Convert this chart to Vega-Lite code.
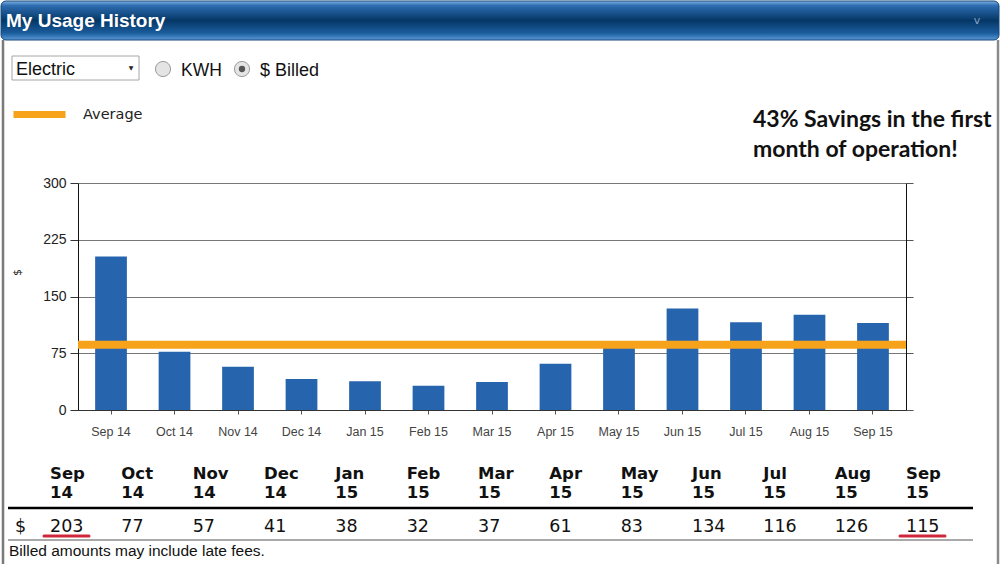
{
  "$schema": "https://vega.github.io/schema/vega-lite/v6.json",
  "width": 828,
  "height": 227,
  "autosize": {"type": "none"},
  "padding": {"left": 78, "top": 183, "right": 94, "bottom": 154},
  "background": "white",
  "config": {"view": {"stroke": null}},
  "data": {
    "values": [
      {"month": "Sep 14", "value": 203},
      {"month": "Oct 14", "value": 77},
      {"month": "Nov 14", "value": 57},
      {"month": "Dec 14", "value": 41},
      {"month": "Jan 15", "value": 38},
      {"month": "Feb 15", "value": 32},
      {"month": "Mar 15", "value": 37},
      {"month": "Apr 15", "value": 61},
      {"month": "May 15", "value": 83},
      {"month": "Jun 15", "value": 134},
      {"month": "Jul 15", "value": 116},
      {"month": "Aug 15", "value": 126},
      {"month": "Sep 15", "value": 115}
    ]
  },
  "layer": [
    {
      "data": {"values": [{}]},
      "mark": {
        "type": "rect",
        "cornerRadius": 5,
        "stroke": "#16487c",
        "strokeWidth": 1,
        "fill": {
          "gradient": "linear", "x1": 0, "y1": 0, "x2": 0, "y2": 1,
          "stops": [
            {"offset": 0, "color": "#7fb0e2"},
            {"offset": 0.12, "color": "#2d6cb0"},
            {"offset": 0.5, "color": "#053766"},
            {"offset": 0.82, "color": "#1a5c9c"},
            {"offset": 1, "color": "#5a98d6"}
          ]
        }
      },
      "encoding": {"x": {"value": -77}, "x2": {"value": 921}, "y": {"value": -182}, "y2": {"value": -143}}
    },
    {
      "data": {"values": [{}]},
      "mark": {"type": "text", "text": "My Usage History", "font": "Liberation Sans", "fontWeight": "bold", "fontSize": 19, "fill": "white", "align": "left", "baseline": "alphabetic"},
      "encoding": {"x": {"value": -72}, "y": {"value": -156}}
    },
    {
      "data": {"values": [{}]},
      "mark": {"type": "text", "text": "v", "font": "DejaVu Sans", "fontSize": 11, "fill": "#7fa3c8", "align": "center", "baseline": "middle"},
      "encoding": {"x": {"value": 899}, "y": {"value": -162}}
    },
    {
      "data": {"values": [{}]},
      "mark": {"type": "rule", "stroke": "#7a7a7a", "strokeWidth": 2.5},
      "encoding": {"x": {"value": -75}, "y": {"value": -143}, "y2": {"value": 381}}
    },
    {
      "data": {"values": [{}]},
      "mark": {"type": "rule", "stroke": "#8a8a8a", "strokeWidth": 2.5},
      "encoding": {"x": {"value": 920}, "y": {"value": -143}, "y2": {"value": 381}}
    },
    {
      "data": {"values": [{}]},
      "mark": {"type": "rect", "fill": "white", "stroke": "#a6a6a6", "strokeWidth": 1},
      "encoding": {"x": {"value": -66}, "x2": {"value": 61}, "y": {"value": -127}, "y2": {"value": -103}}
    },
    {
      "data": {"values": [{}]},
      "mark": {"type": "text", "text": "Electric", "font": "Liberation Sans", "fontSize": 18, "fill": "#111", "align": "left", "baseline": "alphabetic"},
      "encoding": {"x": {"value": -62}, "y": {"value": -108}}
    },
    {
      "data": {"values": [{}]},
      "mark": {"type": "text", "text": "▼", "font": "DejaVu Sans", "fontSize": 6, "fill": "#222", "align": "center", "baseline": "middle"},
      "encoding": {"x": {"value": 53}, "y": {"value": -115}}
    },
    {
      "data": {"values": [{}]},
      "mark": {"type": "point", "shape": "circle", "filled": true, "size": 230, "fill": "#e4e4e4", "stroke": "#9a9a9a", "strokeWidth": 1, "opacity": 1},
      "encoding": {"x": {"value": 85}, "y": {"value": -114}}
    },
    {
      "data": {"values": [{}]},
      "mark": {"type": "point", "shape": "circle", "filled": true, "size": 230, "fill": "#e4e4e4", "stroke": "#9a9a9a", "strokeWidth": 1, "opacity": 1},
      "encoding": {"x": {"value": 164}, "y": {"value": -114}}
    },
    {
      "data": {"values": [{}]},
      "mark": {"type": "point", "shape": "circle", "filled": true, "size": 40, "fill": "#555555", "opacity": 1},
      "encoding": {"x": {"value": 164}, "y": {"value": -114}}
    },
    {
      "data": {"values": [{}]},
      "mark": {"type": "text", "text": "KWH", "font": "Liberation Sans", "fontSize": 17.5, "fill": "#111", "align": "left", "baseline": "alphabetic"},
      "encoding": {"x": {"value": 103}, "y": {"value": -107}}
    },
    {
      "data": {"values": [{}]},
      "mark": {"type": "text", "text": "$ Billed", "font": "Liberation Sans", "fontSize": 18, "fill": "#111", "align": "left", "baseline": "alphabetic"},
      "encoding": {"x": {"value": 182}, "y": {"value": -107}}
    },
    {
      "data": {"values": [{}]},
      "mark": {"type": "text", "text": ["43% Savings in the first", "month of operation!"], "font": "Lato", "fontWeight": "bold", "fontSize": 23, "lineHeight": 30, "fill": "#111", "align": "left", "baseline": "alphabetic"},
      "encoding": {"x": {"value": 675}, "y": {"value": -56}}
    },
    {
      "mark": {"type": "bar", "color": "#2764ae"},
      "encoding": {
        "x": {
          "field": "month", "type": "ordinal", "sort": null,
          "scale": {"paddingInner": 0.5, "paddingOuter": 0.27},
          "axis": {"title": null, "labelAngle": 0, "tickSize": 4, "tickColor": "#555", "domainColor": "#333", "labelColor": "#444", "labelFont": "Liberation Sans", "labelFontSize": 12.5, "labelPadding": 11}
        },
        "y": {
          "field": "value", "type": "quantitative",
          "scale": {"domain": [0, 300]},
          "axis": {"values": [0, 75, 150, 225, 300], "grid": true, "gridColor": "#777", "gridOpacity": 1, "domainColor": "#111", "tickColor": "#333", "tickSize": 8, "labelPadding": 4, "labelFont": "Liberation Sans", "labelFontSize": 14, "labelColor": "#222", "title": "$", "titleFont": "DejaVu Sans", "titleFontSize": 11, "titleFontWeight": "normal", "titleColor": "#222", "titleX": -56, "titleY": 89}
        }
      }
    },
    {
      "mark": {"type": "rule", "strokeWidth": 8},
      "encoding": {
        "y": {
          "aggregate": "mean", "field": "value", "type": "quantitative",
          "scale": {"domain": [0, 300]},
          "axis": {"orient": "right", "labels": false, "values": [0, 75, 150, 225, 300], "tickSize": 7, "tickColor": "#555", "domainColor": "#111", "grid": false, "title": null}
        },
        "color": {
          "datum": "Average", "type": "nominal",
          "scale": {"range": ["#f6a31b"]},
          "legend": {"title": null, "orient": "none", "legendX": -68, "legendY": -98, "symbolType": "stroke", "symbolSize": 2704, "symbolStrokeWidth": 7, "labelFont": "DejaVu Sans", "labelFontSize": 14.5, "labelColor": "#222", "labelOffset": 14}
        }
      }
    },
    {
      "mark": {"type": "text", "font": "DejaVu Sans", "fontWeight": "bold", "fontSize": 16.5, "lineBreak": " ", "lineHeight": 19, "fill": "#111", "align": "left", "baseline": "alphabetic"},
      "encoding": {
        "x": {"field": "month", "type": "ordinal", "sort": null, "scale": {"type": "point", "range": [-28, 828], "padding": 0}, "axis": null},
        "y": {"value": 296},
        "text": {"field": "month"}
      }
    },
    {
      "mark": {"type": "text", "font": "DejaVu Sans", "fontSize": 17.5, "fill": "#111", "align": "left", "baseline": "alphabetic"},
      "encoding": {
        "x": {"field": "month", "type": "ordinal", "sort": null, "scale": {"type": "point", "range": [-28, 828], "padding": 0}, "axis": null},
        "y": {"value": 349},
        "text": {"field": "value"}
      }
    },
    {
      "data": {"values": [{}]},
      "mark": {"type": "text", "text": "$", "font": "DejaVu Sans", "fontSize": 17.5, "fill": "#111", "align": "left", "baseline": "alphabetic"},
      "encoding": {"x": {"value": -63}, "y": {"value": 349}}
    },
    {
      "data": {"values": [{}]},
      "mark": {"type": "rule", "stroke": "#000", "strokeWidth": 2.5},
      "encoding": {"x": {"value": -70}, "x2": {"value": 895}, "y": {"value": 325}}
    },
    {
      "data": {"values": [{}]},
      "mark": {"type": "rule", "stroke": "#555", "strokeWidth": 1},
      "encoding": {"x": {"value": -70}, "x2": {"value": 895}, "y": {"value": 357}}
    },
    {
      "data": {"values": [{}]},
      "mark": {"type": "text", "text": "Billed amounts may include late fees.", "font": "Liberation Sans", "fontSize": 15.5, "fill": "#111", "align": "left", "baseline": "alphabetic"},
      "encoding": {"x": {"value": -69}, "y": {"value": 373}}
    },
    {
      "mark": {"type": "rule", "stroke": "#d0263a", "strokeWidth": 3, "strokeCap": "round", "xOffset": -6, "x2Offset": 39},
      "encoding": {
        "x": {"field": "month", "type": "ordinal", "sort": null, "scale": {"type": "point", "range": [-28, 828], "padding": 0}, "axis": null},
        "x2": {"field": "month"},
        "y": {"value": 353},
        "strokeOpacity": {"condition": {"test": "datum.month === 'Sep 14' || datum.month === 'Sep 15'", "value": 1}, "value": 0}
      }
    }
  ],
  "resolve": {"scale": {"x": "independent", "y": "independent", "color": "independent"}}
}
